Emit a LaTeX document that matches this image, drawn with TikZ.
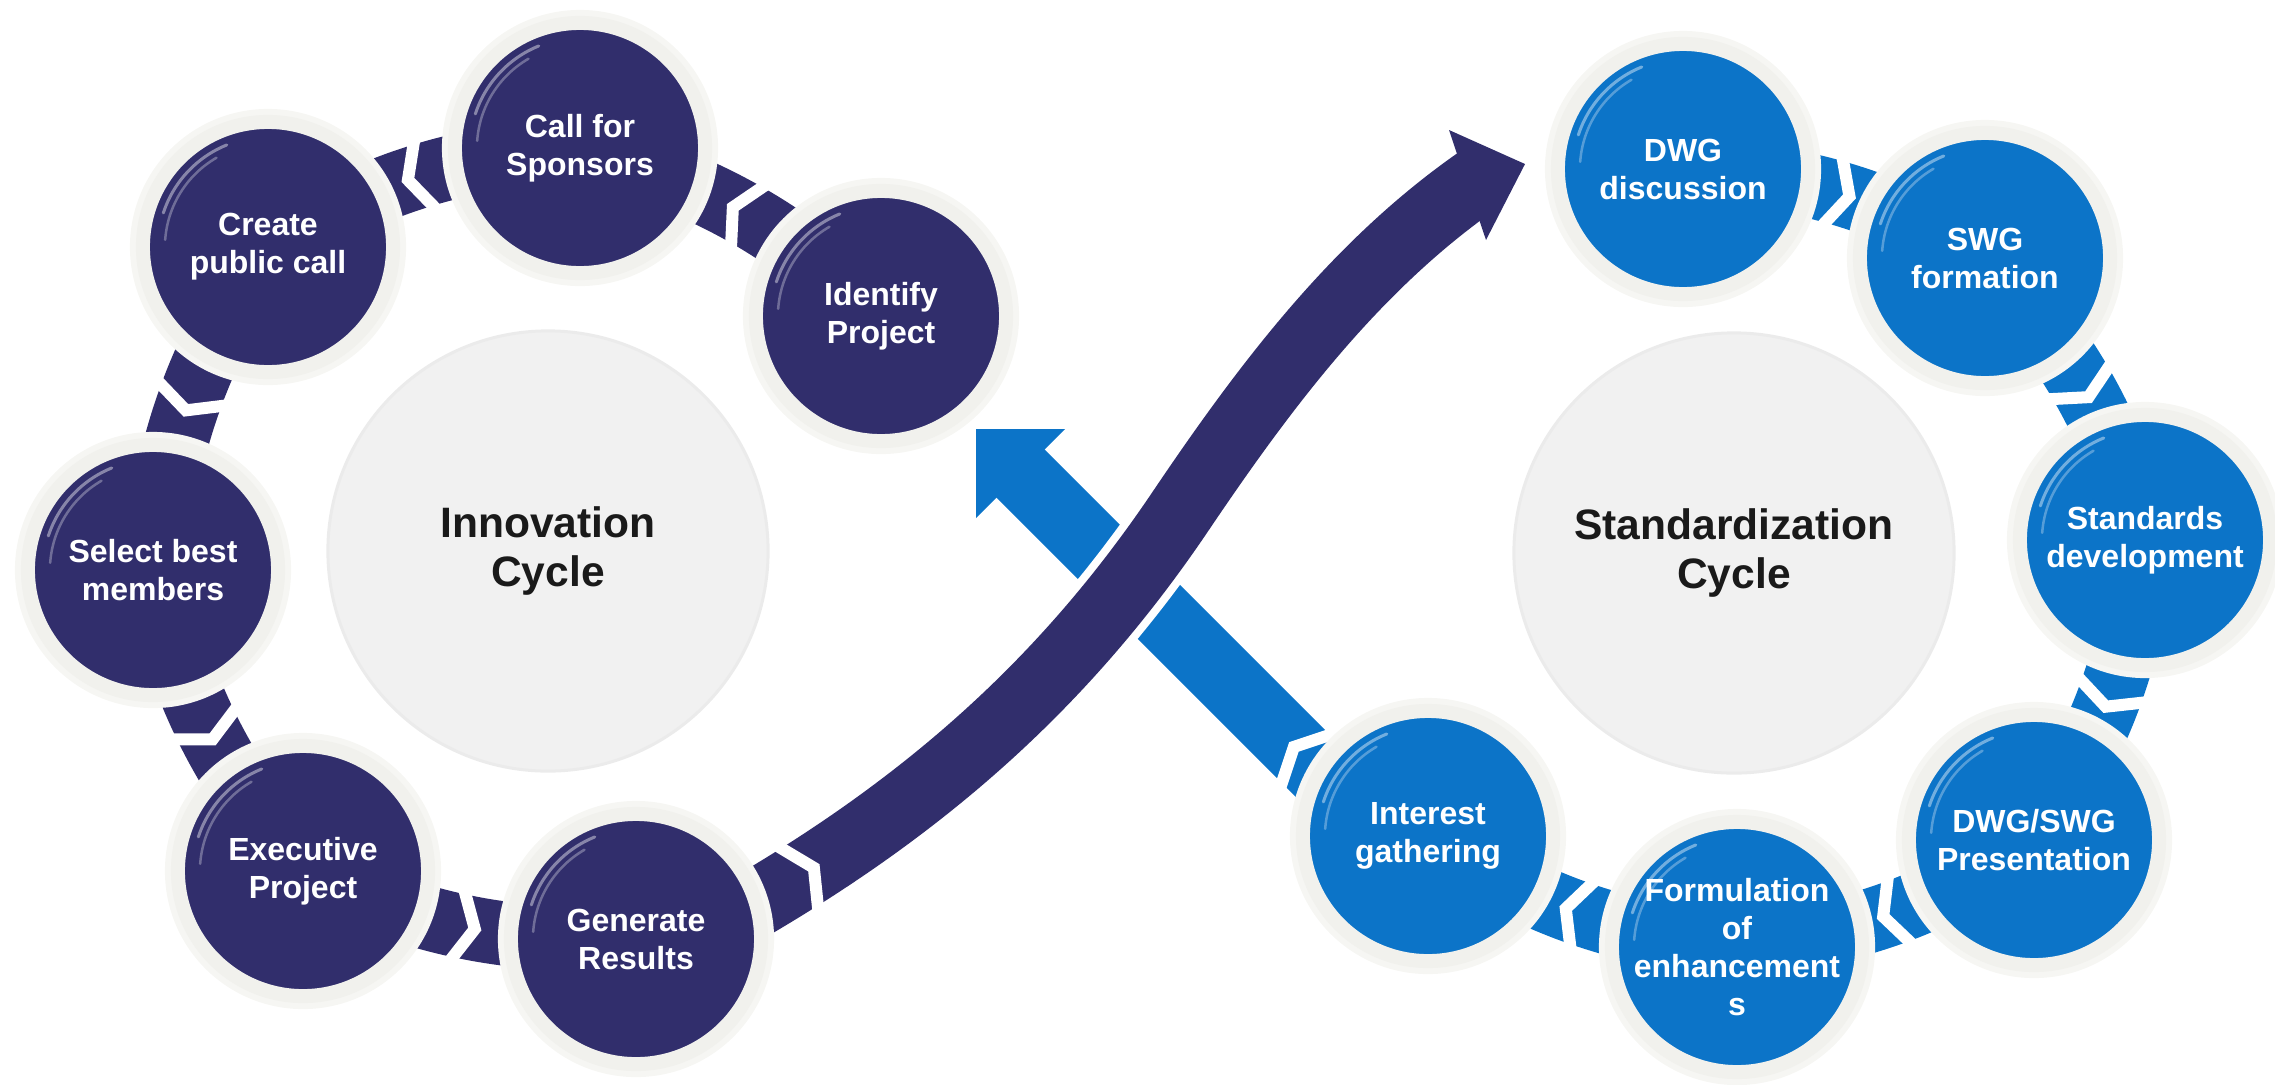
\documentclass[tikz,border=0pt]{standalone}
\usepackage{fontspec}
\setmainfont{Liberation Sans}
\usetikzlibrary{arrows.meta,calc,decorations.markings}
\definecolor{navy}{RGB}{49,46,108}
\definecolor{cblue}{RGB}{12,116,200}
\definecolor{ringc}{RGB}{241,241,237}
\definecolor{haloc}{RGB}{246,246,243}
\definecolor{hubc}{RGB}{241,241,241}
\definecolor{hubedge}{RGB}{235,235,235}
\definecolor{txt}{RGB}{26,26,26}
\pgfdeclarelayer{bg}
\pgfsetlayers{bg,main}
\newcommand\glint[1]{%
  \draw[white, opacity=.42, line width=0.03cm, line cap=round] ($(#1)+(112:1.10cm)$) arc[start angle=112, end angle=162, radius=1.10cm];
  \draw[white, opacity=.30, line width=0.025cm, line cap=round] ($(#1)+(120:1.03cm)$) arc[start angle=120, end angle=176, radius=1.03cm];}
\begin{document}
\begin{tikzpicture}[x=0.01cm, y=0.01cm,
  bubble/.style={circle, minimum size=2.5cm, inner sep=0pt, fill=#1, draw=ringc, line width=0.14cm,
     preaction={draw=haloc, line width=0.26cm}},
  lab/.style={text=white, align=center, font=\bfseries\fontsize{9.1}{10.8}\selectfont},
  hub/.style={circle, minimum size=4.4cm, inner sep=0pt, fill=hubc, draw=hubedge, line width=0.03cm,
     text=txt, align=center, font=\bfseries\fontsize{12.1}{13.7}\selectfont},
  chev/.style={draw=white, line width=0.12cm, line cap=butt, line join=miter, arrows=-},
  band/.style={draw=#1, line width=0.64cm,
     postaction={decorate, decoration={markings, mark=at position 0.5 with {\draw[chev] (-10,40) -- (10,0) -- (-10,-40);}}}},
  navyshaft/.style={draw=navy, line width=0.68cm,
     postaction={decorate, decoration={markings, mark=at position 1.45cm with {\draw[chev] (-10,40) -- (10,0) -- (-10,-40);}}}},
  bluearrow/.style={draw=cblue, line width=0.68cm, -{Triangle[width=1.22cm,length=0.63cm]},
     postaction={decorate, decoration={markings, mark=at position 1.40cm with {\draw[chev] (-10,40) -- (10,0) -- (-10,-40);}}}}
]
\useasboundingbox (0,0) rectangle (2275,-1084);

% left cycle bubbles
\node[bubble=navy, label={[lab]center:{Call for\\Sponsors}}] (cs) at (580,-148) {};
\node[bubble=navy, label={[lab]center:{Create\\public call}}] (cp) at (268,-247) {};
\node[bubble=navy, label={[lab]center:{Identify\\Project}}] (ip) at (881,-316) {};
\node[bubble=navy, label={[lab]center:{Select best\\members}}] (sb) at (153,-570) {};
\node[bubble=navy, label={[lab]center:{Executive\\Project}}] (ep) at (303,-871) {};
\node[bubble=navy, label={[lab]center:{Generate\\Results}}] (gr) at (636,-939) {};
% right cycle bubbles
\node[bubble=cblue, label={[lab]center:{DWG\\discussion}}] (dd) at (1683,-169) {};
\node[bubble=cblue, label={[lab]center:{SWG\\formation}}] (sf) at (1985,-258) {};
\node[bubble=cblue, label={[lab]center:{Standards\\development}}] (sd) at (2145,-540) {};
\node[bubble=cblue, label={[lab]center:{DWG/SWG\\Presentation}}] (dp) at (2034,-840) {};
\node[bubble=cblue, label={[lab]center:{Formulation\\of\\enhancement\\s}}] (fe) at (1737,-947) {};
\node[bubble=cblue, label={[lab]center:{Interest\\gathering}}] (ig) at (1428,-836) {};

\foreach \n in {cs,cp,ip,sb,ep,gr,dd,sf,sd,dp,fe,ig} {\glint{\n}}

\begin{pgfonlayer}{bg}
  \node[hub] (inn) at (548,-551) {Innovation\\Cycle};
  \node[hub] (stc) at (1734,-553) {Standardization\\Cycle};

  \draw[band=navy] (ip.center) to[bend right=13] (cs.center);
  \draw[band=navy] (cs.center) to[bend right=13] (cp.center);
  \draw[band=navy] (cp.center) to[bend right=13] (sb.center);
  \draw[band=navy] (sb.center) to[bend right=13] (ep.center);
  \draw[band=navy] (ep.center) to[bend right=13] (gr.center);

  \draw[band=cblue] (dd.center) to[bend left=13] (sf.center);
  \draw[band=cblue] (sf.center) to[bend left=13] (sd.center);
  \draw[band=cblue] (sd.center) to[bend left=13] (dp.center);
  \draw[band=cblue] (dp.center) to[bend left=13] (fe.center);
  \draw[band=cblue] (fe.center) to[bend left=13] (ig.center);

  % blue return arrow
  \coordinate (b0) at ($(ig)+(-28,-17)$);
  \coordinate (btip) at (976,-429);
  \draw[bluearrow] (b0) -- (btip);

  % navy S-shaped arrow
  \coordinate (n0) at ($(gr)+(44,-7)$);
  \coordinate (nm) at (1180,-512);
  \coordinate (nend) at (1477,-181);
  \coordinate (ntip) at (1525,-164);
  \draw[white, line width=0.84cm] (n0) .. controls (887.5,-835.7) and (1048.6,-706.8) .. (nm)
        .. controls (1263.9,-387.6) and (1354.1,-267) .. (nend);
  \draw[navyshaft] (n0) .. controls (887.5,-835.7) and (1048.6,-706.8) .. (nm)
        .. controls (1263.9,-387.6) and (1354.1,-267) .. (nend);
  \fill[navy] (1449,-130) -- (ntip) -- (1486,-240) -- cycle;
\end{pgfonlayer}
\end{tikzpicture}
\end{document}
